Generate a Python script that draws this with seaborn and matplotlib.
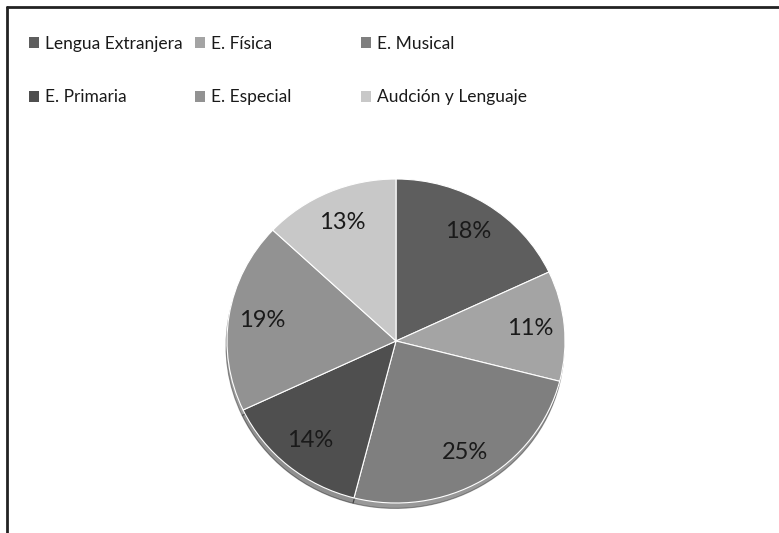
import matplotlib
matplotlib.use("Agg")
import matplotlib.pyplot as plt
import seaborn as sns
from matplotlib.lines import Line2D
from matplotlib.patches import Patch

# datos del gráfico
especialidades = ['Lengua Extranjera', 'E. Física', 'E. Musical',
                  'E. Primaria', 'E. Especial', 'Audción y Lenguaje']
porcentajes = [18, 11, 25, 14, 19, 13]
grises = ['#5e5e5e', '#a4a4a4', '#7f7f7f', '#4f4f4f', '#929292', '#c8c8c8']

sns.set_theme(style='white')
plt.rcParams['font.family'] = ['Lato', 'DejaVu Sans']

fig = plt.figure(figsize=(7.79, 5.33), dpi=100)

# pie axes: centre (396, 341) px, radius 169 px wide / 162 px tall
rx, ry = 169, 162
cx, cy = 396, 341
lim = 1.06
ax = fig.add_axes([(cx - lim * rx) / 779, (533 - cy - lim * ry) / 533,
                   2 * lim * rx / 779, 2 * lim * ry / 533])
wedges, texts, autotexts = ax.pie(
    porcentajes, colors=grises, startangle=90, counterclock=False,
    autopct='%1.0f%%', pctdistance=0.8,
    wedgeprops=dict(edgecolor='white', linewidth=0.8),
    textprops=dict(fontsize=17, color='#1a1a1a'),
    shadow=dict(ox=-0.004, oy=-0.024, shade=0.6),
)
ax.set_xlim(-lim, lim)
ax.set_ylim(-lim, lim)
ax.set_aspect('auto')
ax.set_axis_off()

# legend: three columns of two rows, row-wise order
handles = [Patch(facecolor=c, edgecolor='none') for c in grises]
col_x = [29 / 779, 195 / 779, 361 / 779]
for i, x in enumerate(col_x):
    fig.legend([handles[i], handles[i + 3]], [especialidades[i], especialidades[i + 3]],
               loc='upper left', bbox_to_anchor=(x, 1 - 36 / 533), frameon=False,
               fontsize=12.5, handlelength=0.6, handleheight=0.6, handletextpad=0.35,
               labelspacing=2.15, borderaxespad=0, borderpad=0, labelcolor='#1a1a1a')

# chart border (top and left edges visible)
fig.add_artist(Line2D([7 / 779, 1], [1 - 7 / 533, 1 - 7 / 533], transform=fig.transFigure,
                      color='#222222', linewidth=2))
fig.add_artist(Line2D([7 / 779, 7 / 779], [0, 1 - 7 / 533], transform=fig.transFigure,
                      color='#222222', linewidth=2))

fig.savefig('out.png', dpi=100, facecolor='white')
